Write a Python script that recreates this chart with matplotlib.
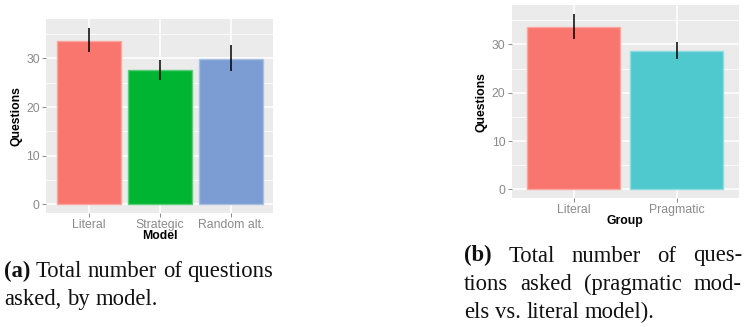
import matplotlib
matplotlib.use("Agg")
import matplotlib.pyplot as plt
import matplotlib.colors as mcolors
import numpy as np

# Panel (a): questions asked, by model
models = ["Literal", "Strategic", "Random alt."]
model_means = [33.6, 27.6, 29.85]
model_lo = [31.4, 25.5, 27.4]
model_hi = [36.2, 29.6, 32.7]
model_colors = ["#F8766D", "#00B531", "#7B9DD3"]

# Panel (b): pragmatic models vs. literal model
groups = ["Literal", "Pragmatic"]
group_means = [33.7, 28.7]
group_lo = [31.2, 27.0]
group_hi = [36.3, 30.5]
group_colors = ["#F8766D", "#50C9CE"]

yticks = [0, 10, 20, 30]
caption_a = [["(a)", "Total", "number", "of", "questions"],
             ["asked,", "by", "model."]]
caption_b = [["(b)", "Total", "number", "of", "ques-"],
             ["tions", "asked", "(pragmatic", "mod-"],
             ["els", "vs.", "literal", "model)."]]

W, H = 749, 327
fig = plt.figure(figsize=(W / 100, H / 100), dpi=100)
fig.patch.set_facecolor("white")

SANS = ["Liberation Sans", "DejaVu Sans"]
SERIF = ["Liberation Serif", "DejaVu Serif"]
TICK_GREY = "#8A8A8A"


def lighten(c, f=0.35):
    r, g, b = mcolors.to_rgb(c)
    return (r + (1 - r) * f, g + (1 - g) * f, b + (1 - b) * f)


def px_axes(x0, y0, x1, y1):
    return fig.add_axes([x0 / W, 1 - y1 / H, (x1 - x0) / W, (y1 - y0) / H])


def gg_bar(ax, cats, means, lo, hi, colors, xlabel):
    x = np.arange(1, len(cats) + 1)
    ax.set_facecolor("#EBEBEB")
    ax.bar(x, means, width=0.9, color=colors,
           edgecolor=[lighten(c) for c in colors], linewidth=1.0, zorder=3)
    ax.vlines(x, lo, hi, color="black", linewidth=1.1, zorder=4)
    top = max(hi)
    pad = 0.05 * top
    ax.set_ylim(-pad, top + pad)
    ax.set_xlim(0.4, len(cats) + 0.6)
    ax.set_yticks(yticks)
    ax.set_yticks([5, 15, 25, 35], minor=True)
    ax.set_xticks(x)
    ax.set_xticklabels(cats)
    ax.grid(which="major", color="white", linewidth=1.1, zorder=1)
    ax.grid(which="minor", axis="y", color="white", linewidth=0.55, zorder=1)
    ax.set_axisbelow(True)
    for s in ax.spines.values():
        s.set_visible(False)
    ax.tick_params(which="major", length=3, width=0.7, color=TICK_GREY,
                   labelcolor=TICK_GREY, labelsize=8.8, pad=1.5)
    ax.tick_params(which="minor", length=0)
    for lab in ax.get_xticklabels() + ax.get_yticklabels():
        lab.set_family(SANS)
    ax.set_xlabel(xlabel, fontsize=8.8, fontweight="bold", family=SANS,
                  labelpad=-1)
    ax.set_ylabel("Questions", fontsize=8.8, fontweight="bold", family=SANS,
                  labelpad=3)


ax_a = px_axes(46.1, 19.4, 273.3, 213.1)
gg_bar(ax_a, models, model_means, model_lo, model_hi, model_colors, "Model")

ax_b = px_axes(511.8, 5.2, 738.8, 198.1)
gg_bar(ax_b, groups, group_means, group_lo, group_hi, group_colors, "Group")

# Captions set in a serif face, with justified lines for panel (b)
renderer = fig.canvas.get_renderer()
CAP_SIZE = 16.3


def draw_caption(lines, x0, x1, baselines, justify):
    for li, (words, yb) in enumerate(zip(lines, baselines)):
        texts = []
        for wi, w in enumerate(words):
            bold = (li == 0 and wi == 0)
            t = fig.text(0, 1 - yb / H, w, fontsize=CAP_SIZE, family=SERIF,
                         fontweight="bold" if bold else "normal",
                         va="baseline", ha="left", color="#111111")
            texts.append(t)
        widths = [t.get_window_extent(renderer).width for t in texts]
        space = fig.text(0, 0, "a a", fontsize=CAP_SIZE, family=SERIF)
        sw = space.get_window_extent(renderer).width - \
            2 * fig.text(0, 0, "a", fontsize=CAP_SIZE, family=SERIF).get_window_extent(renderer).width
        fig.texts = fig.texts[:-2]
        last = li == len(lines) - 1
        if justify and not last and len(words) > 1:
            gap = (x1 - x0 - sum(widths)) / (len(words) - 1)
        else:
            gap = sw
        xp = x0
        for t, wdt in zip(texts, widths):
            t.set_x(xp / W)
            xp += wdt + gap


draw_caption(caption_a, 4, 290, [277, 305], justify=False)
draw_caption(caption_b, 464, 742, [261.5, 290, 318], justify=True)

fig.savefig("out.png", dpi=100)
